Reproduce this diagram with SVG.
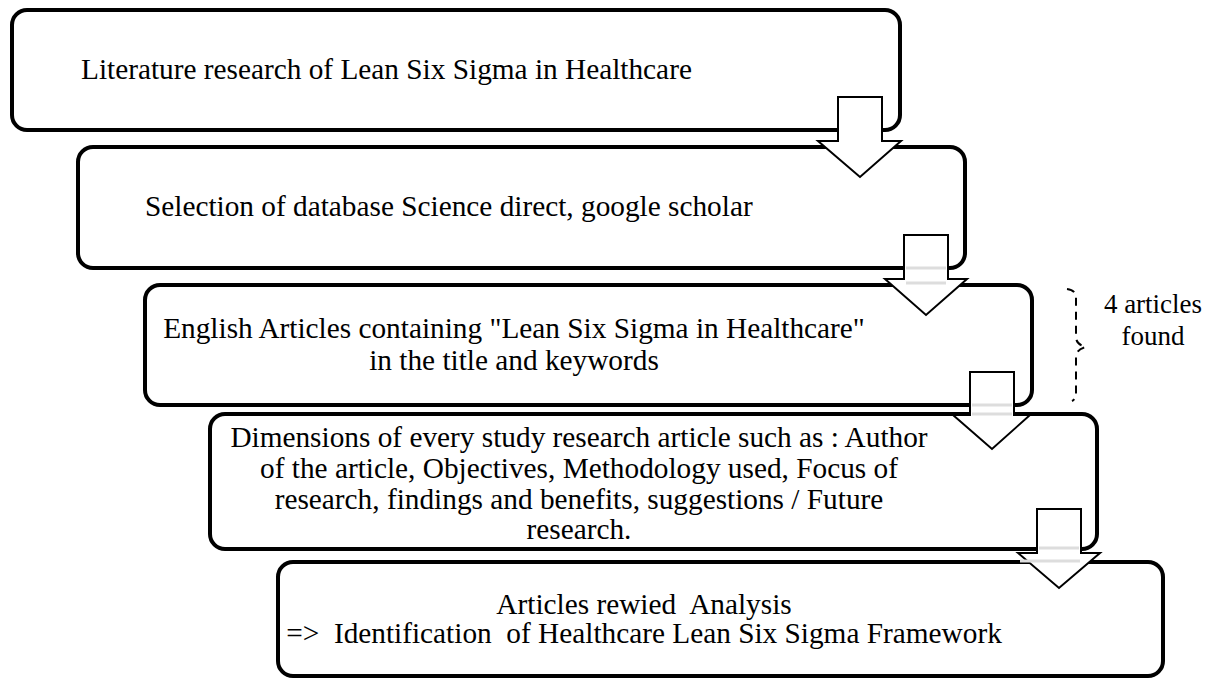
<svg xmlns="http://www.w3.org/2000/svg" width="1210" height="679" viewBox="0 0 1210 679">
<style>
.box{fill:#fff;stroke:#000;stroke-width:4}
.arr{fill:#fff;stroke:#000;stroke-width:2;stroke-linejoin:miter}
.ghost{stroke:#ddd;stroke-width:3}
.c{text-anchor:middle}
text{font-family:'Liberation Serif','Times New Roman',serif;font-size:29.3px;fill:#000}
.note{font-size:27px}
</style>
<rect width="1210" height="679" fill="#fff"/>
<g id="node1"><rect class="box" x="12" y="10" width="888" height="120" rx="15"/>
<text x="81" y="79">Literature research of Lean Six Sigma in Healthcare</text></g>
<g id="node2"><rect class="box" x="78" y="147" width="887" height="121" rx="15"/>
<text x="145" y="216">Selection of database Science direct, google scholar</text></g>
<g id="node3"><rect class="box" x="145" y="285" width="887" height="120" rx="15"/>
<text class="c" x="514" y="338">English Articles containing "Lean Six Sigma in Healthcare"</text>
<text class="c" x="514" y="370">in the title and keywords</text></g>
<g id="node4"><rect class="box" x="210" y="414" width="887" height="135" rx="15"/>
<text class="c" x="579" y="447">Dimensions of every study research article such as : Author</text>
<text class="c" x="579" y="478">of the article, Objectives, Methodology used, Focus of</text>
<text class="c" x="579" y="509">research, findings and benefits, suggestions / Future</text>
<text class="c" x="579" y="539">research.</text></g>
<g id="node5"><rect class="box" x="278" y="562" width="885" height="114" rx="15"/>
<text class="c" x="644" y="614" xml:space="preserve">Articles rewied  Analysis</text>
<text class="c" x="644" y="643" xml:space="preserve">=&gt;  Identification  of Healthcare Lean Six Sigma Framework</text></g>
<g id="note"><path d="M1067,289 Q1076,290 1076,298 L1076,338 Q1077,345 1086,347 Q1077,349 1076,356 L1076,393 Q1076,399 1072,401" fill="none" stroke="#000" stroke-width="2" stroke-dasharray="8,6"/>
<text class="c note" x="1153" y="313">4 articles</text>
<text class="c note" x="1153" y="345">found</text></g>
<g id="connectors">
<polygon class="arr" points="838,97 882,97 882,141 901,141 860,177 818,141 838,141"/>
<polygon class="arr" points="904,235 948,235 948,279 967,279 926,315 885,279 904,279"/>
<line class="ghost" x1="906" y1="268" x2="946" y2="268"/><line class="ghost" x1="906" y1="283" x2="946" y2="283"/>
<polygon class="arr" points="970,372 1014,372 1014,415 1030,415 992,449 953,415 970,415"/>
<line class="ghost" x1="972" y1="405" x2="1012" y2="405"/><line class="ghost" x1="972" y1="414" x2="1012" y2="414"/>
<polygon class="arr" points="1037,509 1081,509 1081,553 1100,553 1059,588 1018,553 1037,553"/>
<line class="ghost" x1="1039" y1="548" x2="1079" y2="548"/><line class="ghost" x1="1020" y1="561" x2="1080" y2="561"/>
</g>
</svg>
